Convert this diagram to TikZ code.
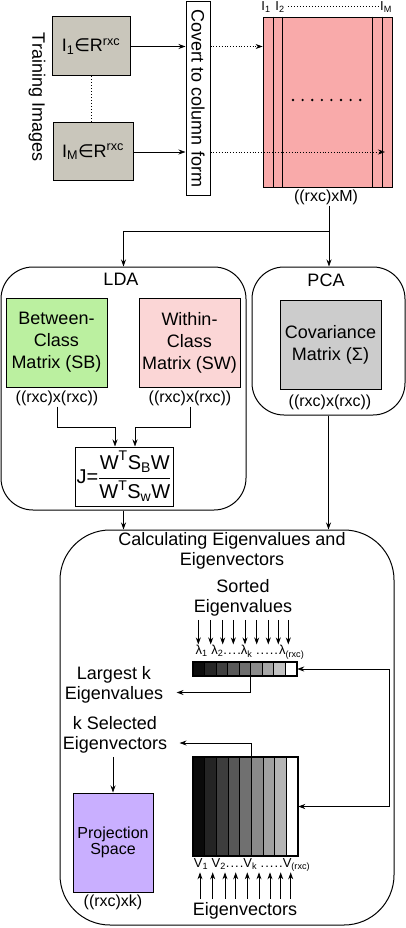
\documentclass[tikz,border=0pt]{standalone}
\usepackage{fontspec}
\usepackage{amsmath}
\setmainfont{Liberation Sans}
\newfontfamily\symfont{DejaVu Sans}
\usetikzlibrary{arrows.meta,positioning,calc}
\definecolor{imgfill}{RGB}{201,198,187}
\definecolor{matfill}{RGB}{249,170,170}
\definecolor{sbfill}{RGB}{187,240,160}
\definecolor{swfill}{RGB}{251,214,214}
\definecolor{covfill}{RGB}{204,204,204}
\definecolor{projfill}{RGB}{201,175,255}
\begin{document}
\begin{tikzpicture}[x=1pt,y=-1pt,
    font=\fontsize{18}{20}\selectfont,
    arr/.style={-{Stealth[length=7pt,width=5pt]},line width=0.8pt},
    box/.style={draw,line width=1pt,inner sep=0pt,align=center,font=\fontsize{18}{22}\selectfont},
    rbox/.style={draw,line width=1pt,rounded corners=32pt,inner sep=0pt},
    lbl/.style={font=\fontsize{16}{18}\selectfont,inner sep=1pt},
    small/.style={font=\fontsize{13}{14}\selectfont,inner sep=0pt}]
    \useasboundingbox (0,0) rectangle (406,928);

    % Training images and column form
    \node[rotate=-90] (train) at (37,97) {Training Images};
    \node[box,fill=imgfill,minimum width=78pt,minimum height=59pt] (img1) at (91,46.5) {I\textsubscript{1}{\symfont ∈}R\textsuperscript{rxc}};
    \node[box,fill=imgfill,minimum width=80pt,minimum height=58pt] (imgM) at (93,152) {I\textsubscript{M}{\symfont ∈}R\textsuperscript{rxc}};
    \draw[dotted,line width=1pt] (img1.south) -- (img1.south |- imgM.north);
    \node[box,rotate=-90,minimum width=194pt,minimum height=24pt] (conv) at (198,98.5) {Covert to column form};
    \draw[arr] (img1.east) -- (img1.east -| conv.south);
    \draw[arr] (imgM.east) -- (imgM.east -| conv.south);

    % Data matrix
    \node[draw,line width=0.8pt,fill=matfill,minimum width=129pt,minimum height=170pt] (mat) at (327.5,102) {};
    \foreach \x in {273,282,372,382}
        \draw[line width=0.8pt] (mat.north -| \x,0) -- (mat.south -| \x,0);
    \foreach \i in {0,...,7}
        \fill (293+\i*9.6,100) circle (1.3pt);
    \node[small] (i1) at (266,7) {I\textsubscript{1}};
    \node[small] (i2) at (280,7) {I\textsubscript{2}};
    \node[small] (iM) at (386,7) {I\textsubscript{M}};
    \draw[dotted,line width=1pt] ([xshift=3pt]i2.east) -- ([xshift=-2pt]iM.west);
    \coordinate (mend) at (385,152);
    \draw[arr,dotted] (img1.east -| conv.north) -- (img1.east -| mat.west);
    \draw[arr,dotted] (imgM.east -| conv.north) -- (mend);
    \node[lbl] (matlbl) at (326,197) {((rxc)xM)};

    \coordinate (split) at (329,231);
    \draw[line width=0.8pt] (matlbl.south -| split) -- (split);

    % LDA
    \node[rbox,minimum width=245pt,minimum height=243pt] (lda) at (123.5,388.5) {};
    \node (ldat) at (121,279) {LDA};
    \node[box,fill=sbfill,minimum width=101pt,minimum height=89pt] (sb) at (56.5,342.5) {Between-\\Class\\Matrix (SB)};
    \node[lbl] (sblbl) at (57,398) {((rxc)x(rxc))};
    \node[box,fill=swfill,minimum width=101pt,minimum height=89pt] (sw) at (189.5,342.5) {Within-\\Class\\Matrix (SW)};
    \node[lbl] (swlbl) at (190,398) {((rxc)x(rxc))};
    \node[box,minimum width=98pt,minimum height=59pt,font=\fontsize{20}{22}\selectfont] (jbox) at (124,476.5)
        {J=$\dfrac{\text{W}^{\text{T}}\text{S}_{\text{B}}\text{W}}{\text{W}^{\text{T}}\text{S}_{\text{w}}\text{W}}$};
    \draw[arr] (sblbl.south) -- ++(0,21) -| ([xshift=-9pt]jbox.north);
    \draw[arr] (swlbl.south) -- ++(0,21) -| ([xshift=11pt]jbox.north);

    % PCA
    \node[rbox,minimum width=153pt,minimum height=148pt] (pca) at (328.5,341) {};
    \node (pcat) at (326,280) {PCA};
    \node[box,fill=covfill,minimum width=101pt,minimum height=89pt] (cov) at (330.5,344.5) {Covariance\\Matrix (Σ)};
    \node[lbl] (covlbl) at (330,402) {((rxc)x(rxc))};

    \draw[arr] (split) -| (lda.north);
    \draw[arr] (split) -- (split |- pca.north);

    % Eigen decomposition
    \node[rbox,rounded corners=50pt,minimum width=334pt,minimum height=395pt] (calc) at (227,727.5) {};
    \node[align=center] (calct) at (232,551) {Calculating Eigenvalues and\\Eigenvectors};
    \draw[arr] (lda.south) -- (lda.south |- calc.north);
    \draw[arr] (pca.south) -- (pca.south |- calc.north);

    \node[align=center] (sorted) at (243,598) {Sorted\\Eigenvalues};
    \node[font=\fontsize{13}{14}\selectfont,inner sep=0.5pt] (lamrow) at (250,652)
        {λ\textsubscript{1} λ\textsubscript{2}.\kern1pt.\kern1pt.\kern1pt.λ\textsubscript{k} .\kern1pt.\kern1pt.\kern1pt.\kern1pt.\kern1pt λ\textsubscript{(rxc)}};
    \foreach \x in {198.3,210.7,222.7,233.3,245,256.7,268.3,278.3,288.3}
        \draw[arr] (sorted.south -| \x,0) -- (lamrow.north -| \x,0);
    \node[minimum width=104pt,minimum height=14pt,inner sep=0pt] (evbar) at (245,669) {};
    \foreach \g [count=\i from 0] in {95,85,75,65,57,46,35,24,0}
        \draw[fill=black!\g,line width=0.5pt] ($(evbar.north west)+(\i*11.56,0)$) rectangle ++(11.56,14);
    \draw[line width=1.8pt] (evbar.north west) rectangle (evbar.south east);

    \node[align=center] (largest) at (114,684.5) {Largest k\\Eigenvalues};
    \coordinate (kval) at (250,669);
    \draw[arr] (kval) |- ([xshift=10pt,yshift=-8pt]largest.east);

    \node[minimum width=105pt,minimum height=99pt,inner sep=0pt] (evmat) at (245.5,806.5) {};
    \foreach \g [count=\i from 0] in {96,86,76,66,56,46,37,29,0}
        \draw[fill=black!\g,line width=0.6pt] ($(evmat.north west)+(\i*11.67,0)$) rectangle ++(11.67,99);
    \draw[line width=1.8pt] (evmat.north west) rectangle (evmat.south east);

    \coordinate (rtop) at (389,669);
    \draw[arr] (rtop) -- (evbar.east);
    \draw[arr] (rtop) |- (evmat.east);

    \node[align=center] (ksel) at (115,735) {k Selected\\Eigenvectors};
    \coordinate (kvec) at (251,778);
    \draw[arr] (kvec) |- ([xshift=9pt,yshift=-8pt]ksel.east);

    \node[box,fill=projfill,minimum width=80pt,minimum height=99pt,font=\fontsize{16}{16}\selectfont] (proj) at (113,842.5) {Projection\\Space};
    \node[lbl] (projlbl) at (113,902) {((rxc)xk)};
    \draw[arr] (ksel.south -| proj.north) -- (proj.north);

    \node[font=\fontsize{13}{14}\selectfont,inner sep=0.5pt] (vrow) at (252,865)
        {V\textsubscript{1} V\textsubscript{2}.\kern1pt.\kern1pt.\kern1pt.V\textsubscript{k} .\kern1pt.\kern1pt.\kern1pt.\kern1pt.V\textsubscript{(rxc)}};
    \node (eveclbl) at (245,911) {Eigenvectors};
    \foreach \x in {200,212.7,225,235.7,247.3,259,270,280.7,290.7}
        \draw[arr] (eveclbl.north -| \x,0) -- (vrow.south -| \x,0);
\end{tikzpicture}
\end{document}
